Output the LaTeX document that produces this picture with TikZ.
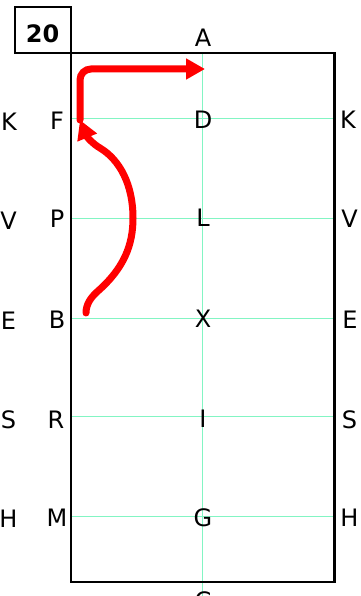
\documentclass[tikz,border=0pt]{standalone}
\usepackage{fontspec}
\setmainfont{DejaVu Sans}
\usetikzlibrary{arrows.meta}
\definecolor{gridc}{RGB}{130,245,195}
\begin{document}
\begin{tikzpicture}[x=1pt,y=-1pt,
  lab/.style={font=\fontsize{24}{24}\selectfont, inner sep=0pt},
  gridl/.style={draw=gridc, line width=1pt},
  frame/.style={draw=black, line width=2.4pt},
  numbox/.style={draw=black, line width=1.8pt},
  redarr/.style={draw=red, line width=7pt, line cap=round, -{Triangle[length=19pt,width=20pt]}}]
\useasboundingbox (0,0) rectangle (360,596);
% grid lines
\foreach \y in {119,218,318,416,516} \draw[gridl] (71,\y) -- (334.5,\y);
\draw[gridl] (202.5,53) -- (202.5,596);
% frame
\draw[frame] (71,53) rectangle (334.5,582);
% number box
\draw[numbox] (15,7) rectangle (71,53);
\node[lab] (num) at (42.5,34) {\bfseries 20};
% labels: left outer column
\node[lab] (lK) at (9,122) {K};
\node[lab] (lV) at (8.5,221) {V};
\node[lab] (lE) at (8.5,321) {E};
\node[lab] (lS) at (8.5,420) {S};
\node[lab] (lH) at (8.5,519) {H};
% left inner column
\node[lab] (F) at (57,121) {F};
\node[lab] (P) at (57,219) {P};
\node[lab] (B) at (57,320) {B};
\node[lab] (R) at (56,420) {R};
\node[lab] (M) at (57,518) {M};
% middle column
\node[lab] (A) at (203,38) {A};
\node[lab] (D) at (203,120) {D};
\node[lab] (L) at (203,218) {L};
\node[lab] (X) at (203,319) {X};
\node[lab] (I) at (203,419) {I};
\node[lab] (G) at (203,518) {G};
\node[lab] (C) at (203,601) {C};
% right column
\node[lab] (rK) at (348,120) {K};
\node[lab] (rV) at (349.5,219) {V};
\node[lab] (rE) at (350,320) {E};
\node[lab] (rS) at (349.5,420) {S};
\node[lab] (rH) at (349.5,518) {H};
% red arrows
\coordinate (s1) at (86,313);
\coordinate (t1) at (80,120);
\coordinate (t2) at (205,69);
\draw[redarr] (s1) .. controls (86,305) and (90,298) .. (98,291)
  .. controls (124,268) and (133,245) .. (133,218)
  .. controls (133,185) and (120,160) .. (100,148)
  .. controls (93,144) and (87,137) .. (t1);
\draw[redarr, rounded corners=11pt] (t1) |- (t2);
\end{tikzpicture}
\end{document}
